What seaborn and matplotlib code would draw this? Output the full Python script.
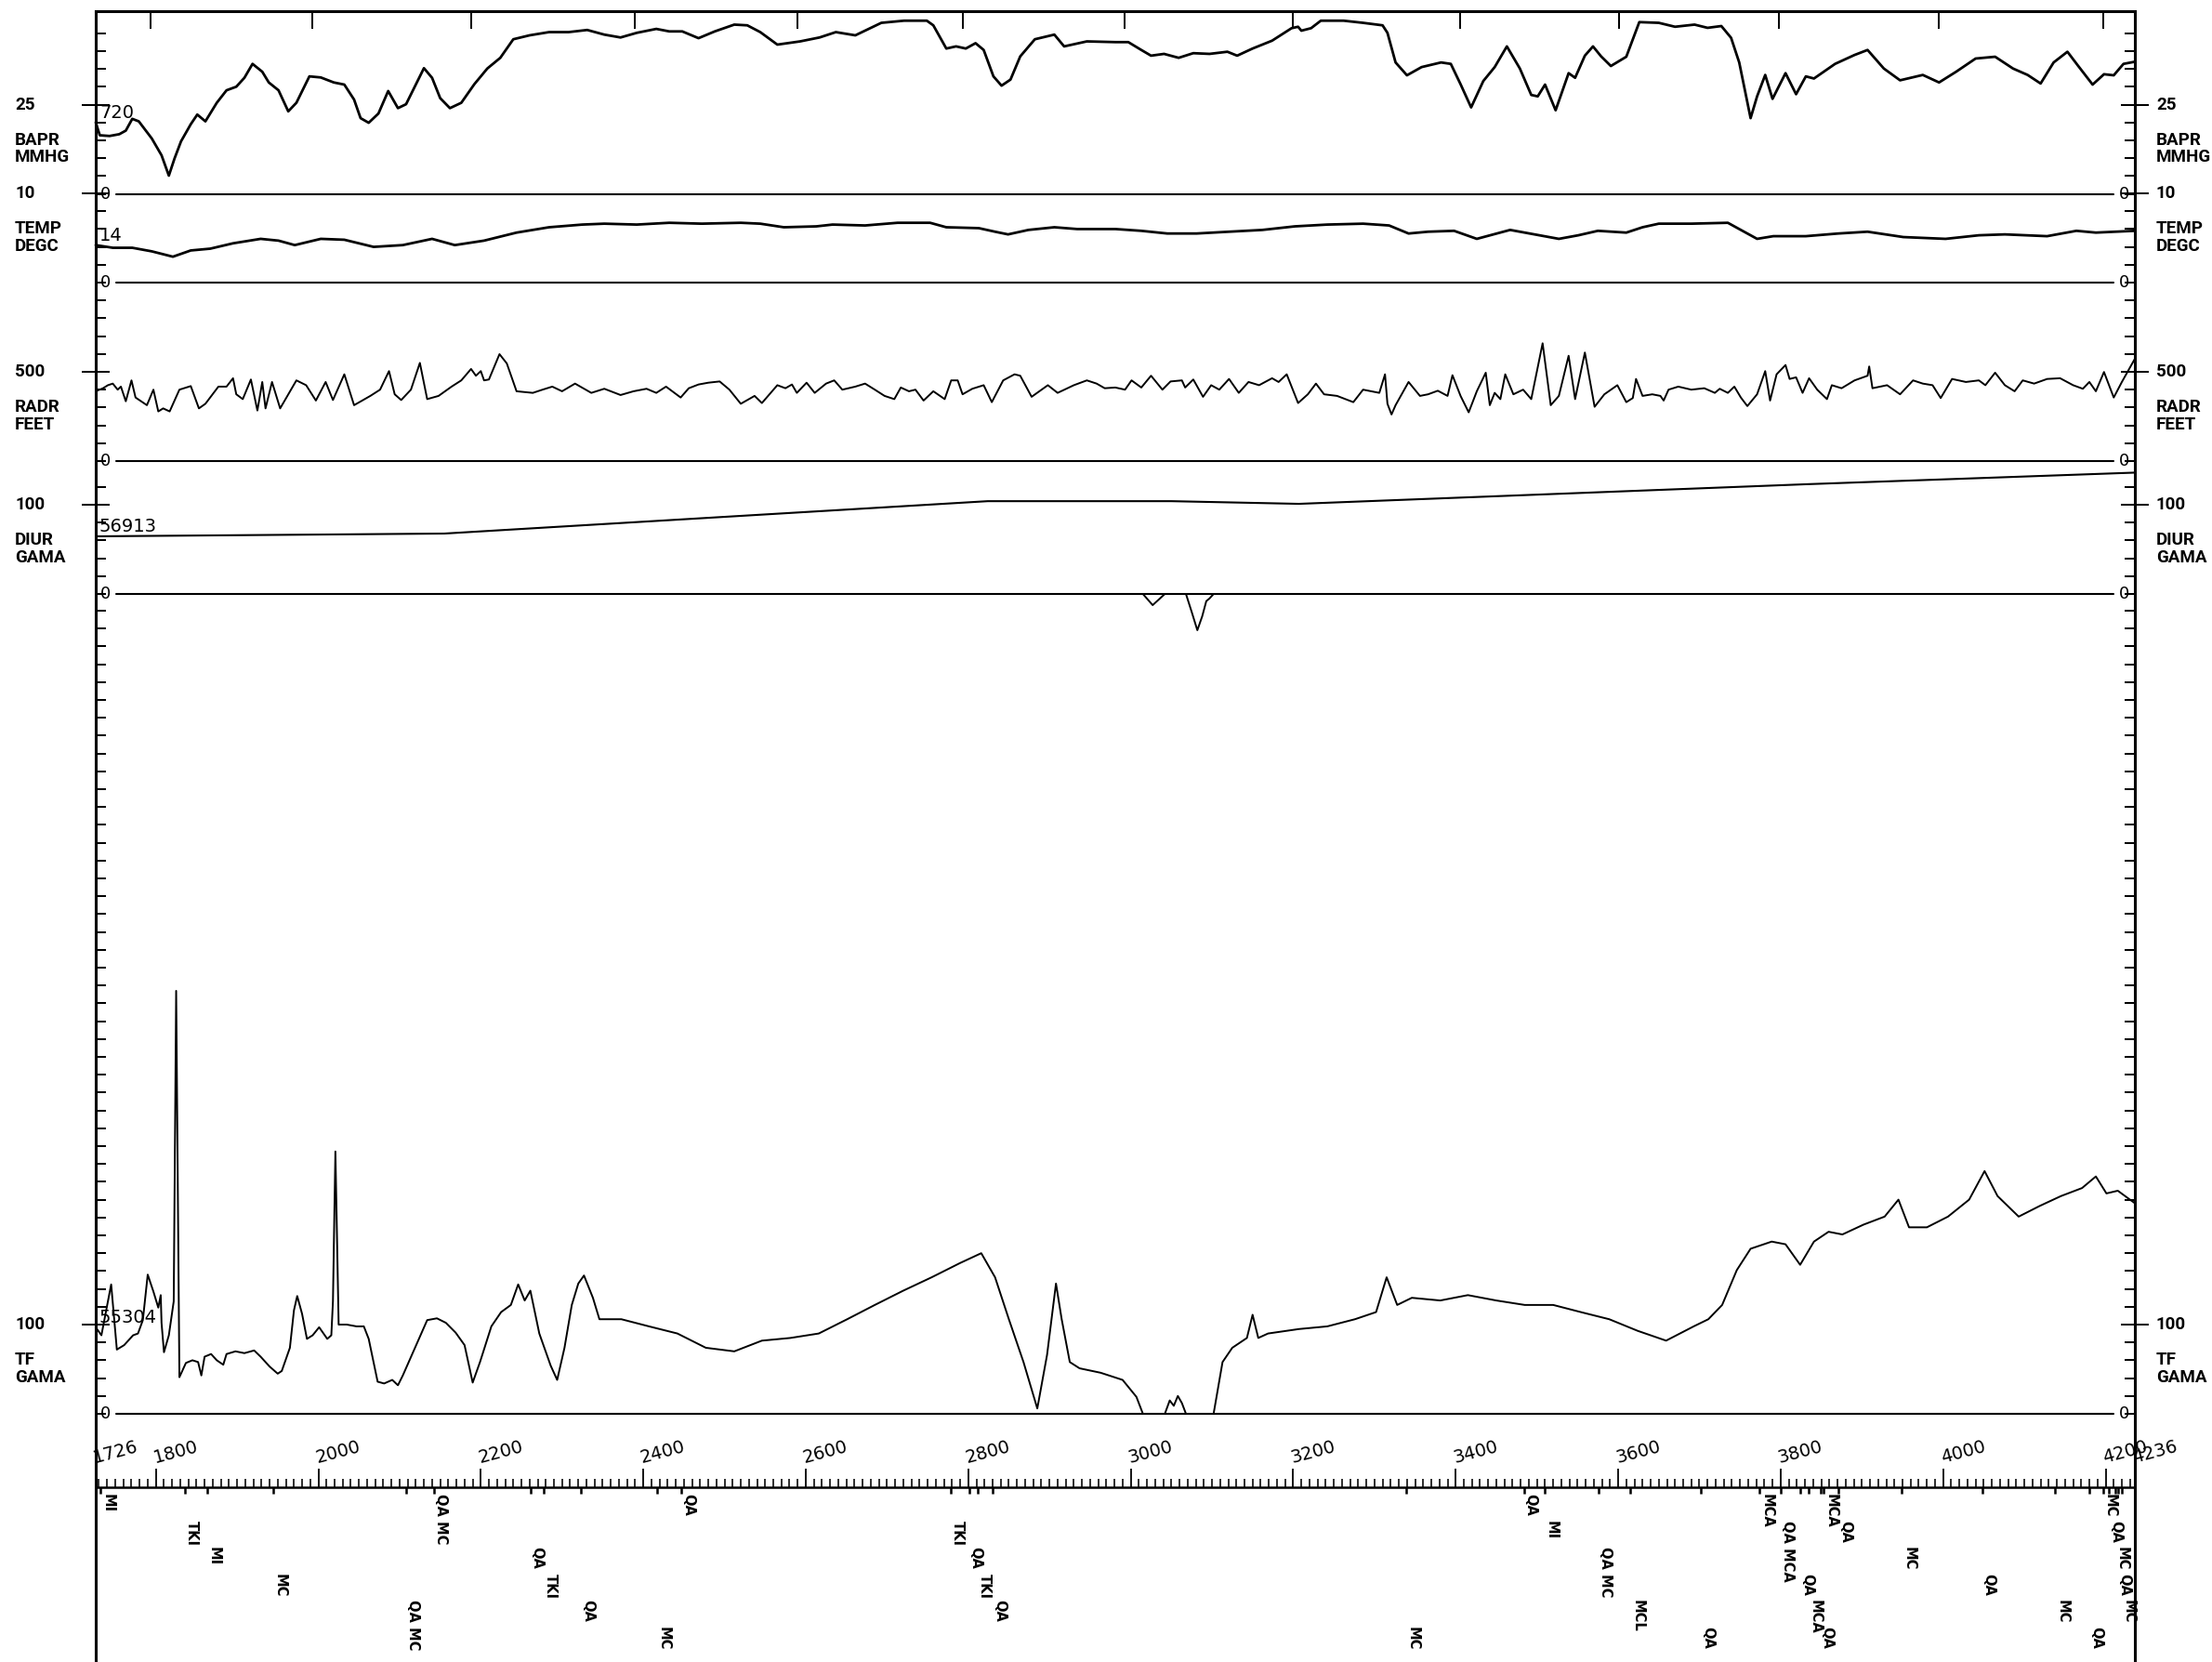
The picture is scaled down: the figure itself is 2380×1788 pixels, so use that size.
import numpy as np
import pandas as pd
import matplotlib
matplotlib.use("Agg")
import matplotlib.pyplot as plt
import seaborn as sns

# ---------------- profile data ----------------
FID_START, FID_END = 1726, 4236

bapr_fid = [1726, 1731, 1743, 1755, 1763, 1771, 1779, 1795, 1807, 1816, 1823, 1831, 1843, 1851, 1861,
            1875, 1887, 1899, 1909, 1919, 1931, 1939, 1951, 1963, 1973, 1989, 2003, 2019, 2032, 2044,
            2052, 2062, 2074, 2086, 2098, 2108, 2130, 2140, 2150, 2162, 2176, 2192, 2208, 2224, 2240,
            2260, 2284, 2308, 2331, 2352, 2372, 2392, 2416, 2432, 2448, 2468, 2488, 2512, 2528, 2544,
            2565, 2593, 2617, 2637, 2661, 2693, 2721, 2749, 2757, 2773, 2785, 2797, 2809, 2819, 2831,
            2841, 2852, 2864, 2882, 2906, 2918, 2946, 2981, 2997, 3013, 3025, 3041, 3059, 3077, 3097,
            3119, 3131, 3150, 3174, 3198, 3206, 3210, 3222, 3234, 3262, 3286, 3310, 3316, 3326, 3340,
            3358, 3382, 3394, 3406, 3419, 3434, 3448, 3463, 3479, 3493, 3501, 3510, 3523, 3539, 3547,
            3559, 3569, 3579, 3591, 3610, 3626, 3650, 3670, 3694, 3710, 3727, 3739, 3749, 3763, 3771,
            3781, 3790, 3806, 3819, 3831, 3841, 3867, 3891, 3907, 3927, 3947, 3975, 3995, 4016, 4040,
            4064, 4086, 4104, 4120, 4136, 4153, 4166, 4184, 4198, 4210, 4222, 4236]
bapr_mmhg = [720.0, 716.4, 716.2, 716.7, 717.7, 721.0, 720.3, 715.5, 710.8, 705.1, 709.9, 714.7, 719.5, 722.2, 720.3,
             725.5, 729.0, 730.0, 732.5, 736.4, 734.2, 731.2, 729.0, 723.1, 725.5, 732.9, 732.6, 731.2, 730.6, 726.4,
             721.2, 719.9, 722.5, 728.8, 724.0, 725.1, 735.2, 732.5, 726.8, 724.0, 725.5, 730.7, 735.1, 738.1, 743.3,
             744.4, 745.3, 745.3, 745.9, 744.6, 743.8, 745.1, 746.2, 745.5, 745.5, 743.6, 745.5, 747.4, 747.2, 745.3,
             741.8, 742.7, 743.8, 745.3, 744.4, 747.9, 748.5, 748.5, 747.2, 740.7, 741.3, 740.7, 742.2, 740.3, 732.9,
             730.3, 732.0, 738.5, 743.3, 744.6, 741.3, 742.7, 742.5, 742.5, 740.3, 738.7, 739.2, 738.1, 739.4, 739.2,
             739.8, 738.7, 740.7, 742.9, 746.4, 746.8, 745.7, 746.4, 748.5, 748.5, 747.9, 747.2, 745.1, 736.8, 733.2,
             735.5, 736.8, 736.4, 730.7, 724.2, 731.6, 735.5, 741.3, 735.1, 727.7, 727.3, 730.6, 723.4, 733.8, 732.5,
             738.7, 741.3, 738.5, 735.8, 738.4, 748.1, 747.9, 746.8, 747.4, 746.5, 747.0, 743.7, 736.8, 721.2, 727.3,
             733.3, 726.6, 733.8, 727.9, 732.9, 732.3, 736.4, 738.9, 740.3, 735.1, 731.8, 733.3, 731.2, 734.2, 737.9,
             738.4, 735.1, 733.3, 730.9, 736.8, 739.8, 735.9, 730.6, 733.5, 733.2, 736.4, 737.0]

temp_fid = [1726, 1747, 1771, 1795, 1821, 1843, 1867, 1895, 1929, 1951, 1971, 2003, 2032, 2068, 2104,
            2140, 2168, 2204, 2244, 2284, 2325, 2352, 2392, 2432, 2472, 2520, 2544, 2573, 2613, 2633,
            2673, 2713, 2753, 2773, 2813, 2833, 2849, 2874, 2906, 2934, 2981, 3013, 3045, 3081, 3121,
            3162, 3202, 3242, 3286, 3318, 3342, 3366, 3398, 3426, 3467, 3503, 3527, 3551, 3575, 3610,
            3630, 3650, 3690, 3735, 3755, 3771, 3791, 3831, 3871, 3907, 3951, 4003, 4044, 4076, 4128,
            4164, 4188, 4236]
temp_degc = [14.2, 13.9, 13.9, 13.5, 12.9, 13.6, 13.8, 14.4, 14.9, 14.7, 14.2, 14.9, 14.8, 14.0, 14.2,
             14.9, 14.2, 14.7, 15.6, 16.2, 16.5, 16.6, 16.5, 16.7, 16.6, 16.7, 16.6, 16.2, 16.3, 16.5,
             16.4, 16.7, 16.7, 16.2, 16.1, 15.7, 15.4, 15.9, 16.2, 16.0, 16.0, 15.8, 15.5, 15.5, 15.7,
             15.9, 16.3, 16.5, 16.6, 16.4, 15.5, 15.7, 15.8, 14.9, 15.9, 15.3, 14.9, 15.3, 15.8, 15.6,
             16.2, 16.6, 16.6, 16.7, 15.7, 14.9, 15.2, 15.2, 15.5, 15.7, 15.1, 14.9, 15.3, 15.4, 15.2,
             15.8, 15.6, 15.8]

radr_fid = [1726, 1735, 1741, 1747, 1753, 1757, 1763, 1770, 1775, 1789, 1797, 1803, 1809, 1817, 1829,
            1843, 1853, 1861, 1877, 1887, 1895, 1899, 1907, 1917, 1925, 1931, 1935, 1943, 1953, 1973,
            1985, 1997, 2009, 2018, 2032, 2044, 2064, 2076, 2087, 2094, 2102, 2114, 2125, 2134, 2148,
            2164, 2176, 2188, 2194, 2200, 2204, 2210, 2223, 2232, 2244, 2264, 2276, 2288, 2300, 2316,
            2336, 2352, 2372, 2388, 2404, 2416, 2428, 2446, 2456, 2468, 2480, 2494, 2506, 2520, 2537,
            2546, 2565, 2575, 2583, 2589, 2601, 2611, 2625, 2635, 2645, 2661, 2673, 2685, 2697, 2709,
            2717, 2727, 2735, 2745, 2757, 2771, 2779, 2787, 2793, 2805, 2819, 2829, 2843, 2857, 2864,
            2878, 2898, 2910, 2930, 2946, 2958, 2968, 2981, 2993, 3001, 3013, 3025, 3039, 3049, 3063,
            3067, 3077, 3089, 3099, 3109, 3121, 3133, 3145, 3158, 3174, 3182, 3192, 3198, 3206, 3218,
            3228, 3238, 3254, 3274, 3286, 3306, 3313, 3316, 3321, 3326, 3342, 3356, 3366, 3378, 3390,
            3396, 3406, 3416, 3426, 3437, 3442, 3448, 3455, 3461, 3471, 3483, 3493, 3507, 3517, 3527,
            3539, 3547, 3559, 3571, 3583, 3599, 3610, 3618, 3622, 3630, 3642, 3652, 3656, 3662, 3674,
            3690, 3706, 3719, 3725, 3735, 3743, 3751, 3759, 3771, 3781, 3787, 3795, 3806, 3811, 3819,
            3827, 3835, 3845, 3857, 3863, 3875, 3891, 3907, 3909, 3913, 3931, 3947, 3963, 3975, 3987,
            3997, 4011, 4028, 4044, 4052, 4064, 4076, 4088, 4098, 4112, 4128, 4144, 4160, 4172, 4180,
            4188, 4198, 4210, 4220, 4236]
radr_feet = [391, 408, 425, 434, 400, 417, 335, 452, 356, 313, 400, 278, 295, 278, 400,
             420, 295, 321, 417, 417, 464, 374, 347, 457, 283, 443, 295, 443, 295, 452,
             425, 339, 443, 342, 486, 313, 365, 400, 504, 374, 342, 400, 550, 347, 365,
             417, 452, 516, 478, 504, 452, 457, 599, 547, 391, 382, 400, 417, 391, 434,
             382, 405, 370, 391, 405, 382, 417, 356, 408, 429, 439, 446, 400, 321, 365,
             325, 425, 408, 429, 382, 439, 382, 434, 452, 400, 417, 434, 400, 365, 347,
             412, 391, 400, 339, 391, 347, 452, 452, 374, 405, 425, 330, 452, 486, 478,
             360, 425, 382, 425, 452, 434, 408, 412, 400, 452, 412, 478, 400, 446, 452,
             412, 457, 360, 425, 400, 460, 382, 443, 425, 464, 443, 486, 417, 325, 374,
             434, 374, 365, 330, 400, 382, 486, 321, 261, 313, 443, 365, 374, 394, 365,
             481, 365, 273, 391, 495, 313, 382, 347, 486, 374, 400, 347, 660, 313, 365,
             590, 347, 608, 304, 374, 425, 330, 353, 460, 365, 374, 365, 339, 400, 417,
             400, 408, 382, 405, 382, 417, 356, 308, 374, 504, 339, 486, 538, 460, 469,
             382, 464, 400, 347, 425, 408, 452, 478, 530, 408, 425, 374, 452, 434, 425,
             353, 460, 443, 452, 425, 495, 425, 391, 452, 434, 460, 464, 425, 405, 443,
             391, 499, 356, 443, 573]

# diurnal and total field: gammas above each track's zero line
diur_fid = [1726, 2155, 2824, 3050, 3207, 3832, 4236]
diur_gamma = [64.6, 67.7, 104, 104, 101, 123, 136]

tf_fid = [1726, 1733, 1745, 1752, 1761, 1772, 1778, 1784, 1790, 1797, 1803, 1806, 1807, 1810, 1816,
          1822, 1825, 1829, 1837, 1845, 1852, 1856, 1860, 1868, 1875, 1883, 1887, 1898, 1909, 1921,
          1929, 1940, 1950, 1955, 1965, 1970, 1974, 1980, 1986, 1993, 2001, 2011, 2016, 2018, 2021,
          2025, 2035, 2047, 2056, 2062, 2073, 2081, 2091, 2098, 2104, 2119, 2134, 2146, 2157, 2169,
          2180, 2190, 2199, 2213, 2225, 2237, 2246, 2254, 2261, 2272, 2286, 2294, 2303, 2312, 2320,
          2327, 2338, 2346, 2373, 2407, 2442, 2477, 2512, 2546, 2581, 2616, 2651, 2685, 2720, 2755,
          2790, 2816, 2833, 2850, 2868, 2885, 2897, 2908, 2915, 2925, 2937, 2963, 2990, 3007, 3015,
          3027, 3042, 3048, 3053, 3058, 3063, 3068, 3075, 3082, 3088, 3093, 3097, 3102, 3113, 3125,
          3143, 3150, 3157, 3169, 3207, 3242, 3276, 3302, 3315, 3328, 3346, 3381, 3415, 3450, 3485,
          3520, 3554, 3589, 3624, 3659, 3676, 3693, 3711, 3728, 3746, 3763, 3789, 3806, 3824, 3841,
          3859, 3876, 3902, 3928, 3945, 3958, 3980, 4006, 4032, 4051, 4067, 4093, 4119, 4145, 4171,
          4188, 4201, 4215, 4236]
tf_gamma = [97, 88, 145, 72, 77, 88, 90, 105, 156, 137, 119, 133, 102, 69, 88,
            126, 474, 41, 57, 60, 58, 43, 64, 67, 60, 55, 67, 70, 68, 71,
            64, 53, 45, 48, 74, 116, 132, 112, 84, 88, 97, 84, 88, 126, 294,
            100, 100, 98, 98, 84, 36, 34, 38, 32, 43, 74, 105, 107, 102, 91,
            77, 35, 58, 98, 114, 122, 145, 127, 138, 90, 54, 38, 74, 122, 146,
            155, 130, 106, 106, 98, 90, 74, 70, 82, 85, 90, 106, 122, 138, 153,
            169, 180, 153, 106, 58, 6, 66, 146, 106, 58, 51, 46, 38, 19, 0,
            -12.5, 0, 15, 9, 20, 12, 0, -20, -40.6, -25, -8, -5, 0, 58, 74,
            85, 111, 85, 90, 95, 98, 106, 114, 153, 122, 130, 127, 133, 127, 122,
            122, 114, 106, 93, 82, 90, 98, 106, 122, 161, 185, 193, 190, 167, 193,
            204, 201, 212, 221, 240, 209, 209, 221, 240, 272, 244, 221, 233, 244, 253,
            266, 247, 250, 236]

top_tick_fid = [1794, 1992, 2188, 2390, 2590, 2793, 2993, 3200, 3405, 3601, 3798, 3995, 4197]
fid_labels = [1726, 1800, 2000, 2200, 2400, 2600, 2800, 3000, 3200, 3400, 3600, 3800, 4000, 4200, 4236]

code_fid = [1732, 1836, 1863, 1944, 2108, 2142, 2261, 2277, 2323, 2417, 2447, 2778, 2801, 2812, 2830,
            3339, 3484, 3509, 3576, 3615, 3702, 3774, 3800, 3824, 3834, 3849, 3853, 3871, 3949, 4048,
            4138, 4180, 4197, 4204, 4212, 4215, 4220]
code_text = ["MI", "TKI", "MI", "MC", "QA MC", "QA MC", "QA", "TKI", "QA", "MC", "QA", "TKI", "QA", "TKI", "QA",
             "MC", "QA", "MI", "QA MC", "MCL", "QA", "MCA", "QA MCA", "QA", "MCA", "QA", "MCA", "QA", "MC", "QA",
             "MC", "QA", "MC", "QA", "MC", "QA", "MC"]
code_row = [0, 1, 2, 3, 4, 0, 2, 3, 4, 5, 0, 1, 2, 3, 4,
            5, 0, 1, 2, 4, 5, 0, 1, 3, 4, 5, 0, 1, 2, 3,
            4, 5, 0, 1, 2, 3, 4]

# ---------------- sheet layout (pixels on a 2380 x 1788 sheet) ----------------
W, H = 2380, 1788
X0, X1 = 103, 2297
TOP = 12
TICK_PX = 19.2
PT = 72 / 100          # points per pixel at 100 dpi
INK = "black"

sns.set_theme(style="white")
plt.rcParams["font.family"] = ["DejaVu Sans"]

fig = plt.figure(figsize=(W / 100, H / 100), dpi=100)


def add_ax(top_px, bottom_px):
    ax = fig.add_axes([X0 / W, 1 - bottom_px / H, (X1 - X0) / W, (bottom_px - top_px) / H])
    ax.patch.set_alpha(0)
    for s in ax.spines.values():
        s.set_visible(False)
    ax.tick_params(axis="x", bottom=False, top=False, labelbottom=False, labeltop=False)
    return ax


# name, units, zero line px, top px, baseline value, units per tick, start value text
tracks = [
    ("BAPR", "MMHG", 208.5, TOP, 700, 5, "720"),
    ("TEMP", "DEGC", 304, 200, 10, 2, "14"),
    ("RADR", "FEET", 496, 304, 0, 100, None),
    ("DIUR", "GAMA", 639, 496, 0, 20, "56913"),
    ("TF", "GAMA", 1521, 639, 0, 20, "55304"),
]
series = {
    "BAPR": (bapr_fid, bapr_mmhg, 2.0),
    "TEMP": (temp_fid, temp_degc, 2.0),
    "RADR": (radr_fid, radr_feet, 1.4),
    "DIUR": (diur_fid, diur_gamma, 1.5),
    "TF": (tf_fid, tf_gamma, 1.4),
}

lab_kw = dict(fontsize=13.5, fontweight="bold", family=["Roboto", "DejaVu Sans"], color=INK,
              va="center", ha="left", textcoords="offset points", xycoords=("axes fraction", "data"))

for name, units, zero_px, top_px, base, per_tick, start in tracks:
    ax = add_ax(top_px, zero_px)
    span = (zero_px - top_px) / TICK_PX * per_tick
    n = int((zero_px - top_px) / TICK_PX - 0.5)
    major = base + 5 * per_tick

    fid, vals, lw = series[name]
    vals = np.asarray(vals, dtype=float)
    if name == "TF":
        # values below the zero line are clipped here and wrapped to the top of the track
        sns.lineplot(x=fid, y=np.clip(vals, 0, None), ax=ax, color=INK, lw=lw,
                     estimator=None, sort=False, legend=False)
        neg = vals <= 0
        wrap = pd.DataFrame({"fid": np.asarray(fid)[neg], "val": vals[neg] + span,
                             "seg": np.cumsum(~neg)[neg]})
        sns.lineplot(data=wrap, x="fid", y="val", units="seg", ax=ax, color=INK, lw=lw,
                     estimator=None, sort=False, legend=False)
    else:
        sns.lineplot(x=fid, y=vals, ax=ax, color=INK, lw=lw,
                     estimator=None, sort=False, legend=False)
    for ln in ax.lines:
        ln.set_clip_on(False)
        ln.set_solid_joinstyle("round")

    ax.set_xlim(FID_START, FID_END)
    ax.set_ylim(base, base + span)
    ax.set_xlabel("")
    ax.set_ylabel("")

    ax.set_yticks([major])
    ax.set_yticklabels([])
    ax.set_yticks([base + k * per_tick for k in range(n + 1) if k != 5], minor=True)
    ax.tick_params(axis="y", which="minor", direction="in", length=11 * PT, width=2 * PT,
                   left=True, right=True, labelleft=False, labelright=False, color=INK)
    ax.tick_params(axis="y", which="major", direction="inout", length=30 * PT, width=2 * PT,
                   left=True, right=True, labelleft=False, labelright=False, color=INK)

    # zero line with its "0" marks
    ax.axhline(base, xmin=22 / (X1 - X0), xmax=(2274 - X0) / (X1 - X0), color=INK, lw=1.5, clip_on=False)
    ax.annotate("0", xy=(0, base), xytext=(5 * PT, 0), fontsize=13, color=INK, ha="left", va="center",
                xycoords=("axes fraction", "data"), textcoords="offset points")
    ax.annotate("0", xy=(1, base), xytext=(-6 * PT, 0), fontsize=13, color=INK, ha="right", va="center",
                xycoords=("axes fraction", "data"), textcoords="offset points")

    # scale value and channel name on both sides
    for xa, dx in [(0, (16 - X0) * PT), (1, (2320 - X1) * PT)]:
        ax.annotate(f"{5 * per_tick}", xy=(xa, major), xytext=(dx, 0), **lab_kw)
        ax.annotate(name, xy=(xa, major), xytext=(dx, -38 * PT), **lab_kw)
        ax.annotate(units, xy=(xa, major), xytext=(dx, -57 * PT), **lab_kw)

    if start:
        ax.annotate(start, xy=(FID_START, vals[0]), xytext=(4 * PT, 1 * PT), textcoords="offset points",
                    fontsize=14, color=INK, ha="left", va="bottom")

# outer frame with the distance ticks along the top
frame = fig.add_axes([X0 / W, 0, (X1 - X0) / W, (H - TOP) / H])
frame.patch.set_alpha(0)
frame.set_xlim(FID_START, FID_END)
frame.set_ylim(0, 1)
frame.spines["bottom"].set_visible(False)
for s in ["left", "right", "top"]:
    frame.spines[s].set_linewidth(2.2)
    frame.spines[s].set_color(INK)
frame.set_xticks(top_tick_fid)
frame.set_yticks([])
frame.tick_params(axis="x", bottom=False, top=True, labelbottom=False, labeltop=False,
                  direction="in", length=19 * PT, width=2 * PT, color=INK)

# fiducial ruler
ruler = add_ax(1580, 1600)
ruler.set_xlim(FID_START, FID_END)
ruler.spines["bottom"].set_visible(True)
ruler.spines["bottom"].set_linewidth(1.8)
ruler.spines["bottom"].set_color(INK)
ruler.set_yticks([])
ruler.set_xticks(fid_labels)
ruler.set_xticklabels([])
ruler.set_xticks(np.arange(1730, 4236, 10), minor=True)
ruler.tick_params(axis="x", which="major", bottom=True, direction="in", length=20 * PT, width=1.8 * PT,
                  color=INK, labelbottom=False)
ruler.tick_params(axis="x", which="minor", bottom=True, direction="in", length=9 * PT, width=1.6 * PT,
                  color=INK)
for f in fid_labels:
    ruler.text(f, 1.1, str(f), transform=ruler.get_xaxis_transform(), rotation=15,
               rotation_mode="anchor", ha="left", va="bottom", fontsize=14, color=INK)

# geology codes under the ruler
codes = add_ax(1600, H)
codes.set_xlim(FID_START, FID_END)
codes.set_ylim(6.33, -0.245)
codes.set_yticks([])
codes.vlines(code_fid, -0.245, 0, color=INK, lw=1.8, clip_on=False)
for f, t, r in zip(code_fid, code_text, code_row):
    codes.text(f, r, t, rotation=270, ha="left", va="top", fontsize=10.5, fontweight="bold", color=INK)

fig.savefig("out.png", dpi=100, facecolor="white")
